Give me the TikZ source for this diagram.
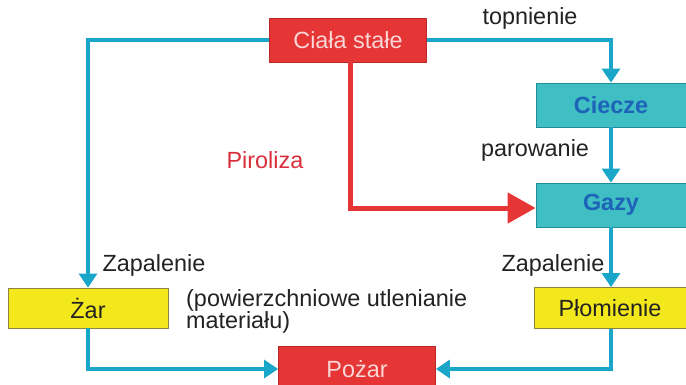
\documentclass[tikz,border=0pt]{standalone}
\usepackage{fontspec}
\setmainfont{Liberation Sans}
\usetikzlibrary{arrows.meta}
\definecolor{flow}{HTML}{1AA6C9}
\definecolor{firered}{HTML}{E63535}
\definecolor{fireredline}{HTML}{B82828}
\definecolor{tealfill}{HTML}{3FBEC3}
\definecolor{tealline}{HTML}{1E8E96}
\definecolor{tealtext}{HTML}{1D63B8}
\definecolor{yellowfill}{HTML}{F3E81C}
\definecolor{yellowline}{HTML}{8A8440}
\definecolor{lighttext}{HTML}{FAD6D6}
\definecolor{darktext}{HTML}{222222}
\definecolor{pyrotext}{HTML}{D92F3A}
\begin{document}
\begin{tikzpicture}[x=1pt,y=-1pt,
  font=\fontsize{23.4}{22}\selectfont,
  box/.style={draw, line width=0.8pt, inner sep=0pt, minimum height=44pt},
  redbox/.style={box, fill=firered, draw=fireredline, text=lighttext},
  tealbox/.style={box, fill=tealfill, draw=tealline, text=tealtext, font=\fontsize{23.4}{22}\selectfont\bfseries},
  yellowbox/.style={box, fill=yellowfill, draw=yellowline, text=darktext},
  label/.style={text=darktext, inner sep=0pt},
  flowline/.style={draw=flow, line width=3.2pt, -{Triangle[length=14pt,width=18pt]}},
  pyroline/.style={draw=firered, line width=5pt, -{Triangle[length=28pt,width=30pt]}}]
\useasboundingbox (0,0) rectangle (686,384);
\clip (0,0) rectangle (686,384);

% boxes
\node[redbox, minimum width=157pt] (ciala) at (348,40) {Ciała stałe};
\node[tealbox, minimum width=150pt] (ciecze) at (611,105) {Ciecze};
\node[tealbox, minimum width=150pt] (gazy) at (611,205) {Gazy};
\node[yellowbox, minimum width=160pt, minimum height=40pt] (zar) at (88,308) {Żar};
\node[yellowbox, minimum width=152pt, minimum height=41pt] (plom) at (610,308) {Płomienie};
\node[redbox, minimum width=157pt, minimum height=46pt] (pozar) at (357,369) {Pożar};

% connectors
\draw[flowline] (ciala.west) -| (zar.north);
\draw[flowline] (ciala.east) -| (ciecze.north);
\draw[flowline] (ciecze.south) -- (gazy.north);
\draw[flowline] (gazy.south) -- (gazy.south |- plom.north);
\draw[flowline] (zar.south) |- (pozar.west);
\draw[flowline] (gazy.south |- plom.south) |- (pozar.east);
\draw[pyroline] ([xshift=2pt]ciala.south) |- ([yshift=-3pt]gazy.west);

% labels
\node[label] (topn) at (530,18) {topnienie};
\node[label] (parow) at (535,150) {parowanie};
\node[label, text=pyrotext] (piro) at (265,160) {Piroliza};
\node[label] (zapL) at (154,265) {Zapalenie};
\node[label] (zapR) at (553,265) {Zapalenie};
\node[label, anchor=west, align=left] (utl) at (186,311) {(powierzchniowe utlenianie\\materiału)};
\end{tikzpicture}
\end{document}
